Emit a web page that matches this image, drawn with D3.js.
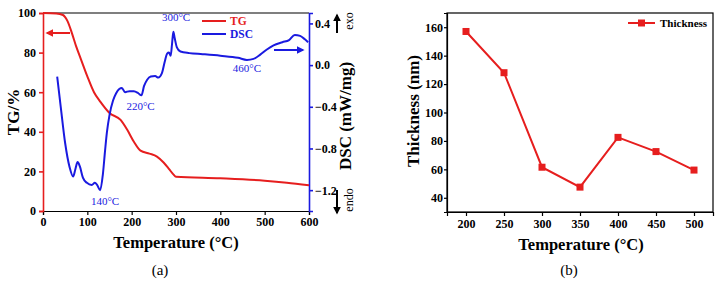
<!DOCTYPE html>
<html>
<head>
<meta charset="utf-8">
<script src="https://cdn.jsdelivr.net/npm/d3@7"></script>
<style>
  body { margin: 0; background: #fff; }
  text { font-family: "Liberation Serif", "Times New Roman", serif; }
</style>
</head>
<body>
<div id="chart"></div>
<script>
// TG curve (weight %) vs temperature
const tgTemp = [0, 30, 45, 55, 65, 75, 85, 100, 115, 130, 150, 175, 190, 205, 220, 240, 257, 272, 285, 294, 300, 400, 500, 550, 600];
const tgVal = [100, 99.8, 99, 96, 90, 83, 77, 68, 60, 55, 49.5, 46, 41, 35, 30.5, 29, 27.5, 24.5, 21, 18.5, 17.3, 16.5, 15.3, 14.3, 13];

// DSC curve (mW/mg) vs temperature
const dscTemp = [32, 40, 50, 60, 68, 73, 78, 83, 90, 99, 110, 117, 122, 129, 135, 140, 144, 150, 158, 165, 172, 178, 185, 195, 205, 215, 222, 228, 235, 243, 253, 260, 268, 275, 280, 284, 288, 291, 294, 297, 302, 310, 330, 360, 400, 440, 460, 475, 490, 505, 520, 540, 555, 568, 580, 590, 598];
const dscVal = [-0.11, -0.4, -0.75, -0.98, -1.07, -1.0, -0.93, -0.97, -1.08, -1.13, -1.15, -1.13, -1.15, -1.2, -1.05, -0.82, -0.65, -0.48, -0.34, -0.27, -0.23, -0.22, -0.26, -0.25, -0.25, -0.27, -0.29, -0.2, -0.14, -0.11, -0.105, -0.12, -0.08, 0.04, 0.11, 0.12, 0.09, 0.2, 0.32, 0.26, 0.17, 0.13, 0.115, 0.105, 0.09, 0.07, 0.05, 0.06, 0.1, 0.15, 0.19, 0.22, 0.24, 0.29, 0.28, 0.25, 0.22];

const peakLabels = [
  { t: 300, v: 0.46, text: '300°C' },
  { t: 220, v: -0.39, text: '220°C' },
  { t: 140, v: -1.31, text: '140°C' },
  { t: 460, v: -0.03, text: '460°C' }
];

// Thickness panel
const thickTemp = [200, 250, 300, 350, 400, 450, 500];
const thickVal = [157, 128, 61.5, 47.5, 82.5, 72.5, 59.5];

const tgTicks = [0, 20, 40, 60, 80, 100];
const tempTicksA = [0, 100, 200, 300, 400, 500, 600];
const dscTicks = [-1.2, -0.8, -0.4, 0.0, 0.4];
const thickTicks = [40, 60, 80, 100, 120, 140, 160];
const tempTicksB = [200, 250, 300, 350, 400, 450, 500];

const red = '#e61e1e';
const blue = '#1a1ae0';

const svg = d3.select('#chart')
  .append('svg')
  .attr('width', 720)
  .attr('height', 282);

const tickFont = (sel) => sel.selectAll('text')
  .style('font-family', '"Liberation Serif", serif')
  .style('font-weight', 'bold')
  .style('font-size', '12px')
  .attr('fill', '#000');

// ---------- panel (a) ----------
const xA = d3.scaleLinear().domain([0, 600]).range([43, 309]);
const yTG = d3.scaleLinear().domain([0, 100]).range([211, 13]);
const yDSC = d3.scaleLinear().domain([-1.4, 0.5]).range([211, 13]);

// frame top
svg.append('line')
  .attr('x1', 43).attr('x2', 309).attr('y1', 13).attr('y2', 13)
  .attr('stroke', '#000').attr('stroke-width', 1.2);

// bottom axis
const gxA = svg.append('g').attr('transform', 'translate(0,211)');
gxA.call(d3.axisBottom(xA).tickValues(d3.range(0, 601, 50)).tickSize(3).tickFormat(''));
gxA.call(d3.axisBottom(xA).tickValues(tempTicksA).tickSize(4).tickPadding(2).tickFormat(d3.format('d')));
gxA.selectAll('path,line').attr('stroke', '#000').attr('stroke-width', 1.2);
tickFont(gxA);

// left TG axis (red)
const gyA = svg.append('g').attr('transform', 'translate(43,0)');
gyA.call(d3.axisLeft(yTG).tickValues(d3.range(0, 101, 10)).tickSize(3).tickFormat(''));
gyA.call(d3.axisLeft(yTG).tickValues(tgTicks).tickSize(4).tickPadding(3).tickFormat(d3.format('d')));
gyA.selectAll('path,line').attr('stroke', red).attr('stroke-width', 1.6);
tickFont(gyA);

// right DSC axis (blue)
const gyR = svg.append('g').attr('transform', 'translate(309,0)');
gyR.call(d3.axisRight(yDSC).tickValues(d3.range(-1.4, 0.51, 0.2)).tickSize(3).tickFormat(''));
gyR.call(d3.axisRight(yDSC).tickValues(dscTicks).tickSize(4).tickPadding(2).tickFormat(d3.format('.1f')));
gyR.selectAll('path,line').attr('stroke', blue).attr('stroke-width', 1.6);
tickFont(gyR);

// curves
const tgLine = d3.line()
  .x((d, i) => xA(tgTemp[i]))
  .y((d) => yTG(d))
  .curve(d3.curveMonotoneX);
svg.append('path')
  .attr('d', tgLine(tgVal))
  .attr('fill', 'none').attr('stroke', red).attr('stroke-width', 2);

const dscLine = d3.line()
  .x((d, i) => xA(dscTemp[i]))
  .y((d) => yDSC(d))
  .curve(d3.curveMonotoneX);
svg.append('path')
  .attr('d', dscLine(dscVal))
  .attr('fill', 'none').attr('stroke', blue).attr('stroke-width', 2);

// peak annotations
svg.selectAll('.peak')
  .data(peakLabels)
  .enter()
  .append('text')
  .attr('x', (d) => xA(d.t))
  .attr('y', (d) => yDSC(d.v))
  .attr('text-anchor', 'middle')
  .attr('dy', '0.35em')
  .attr('fill', blue)
  .style('font-size', '11px')
  .text((d) => d.text);

// legend
const legA = [
  { name: 'TG', color: red, y: 21 },
  { name: 'DSC', color: blue, y: 34 }
];
legA.forEach((d) => {
  svg.append('line')
    .attr('x1', 202).attr('x2', 226).attr('y1', d.y).attr('y2', d.y)
    .attr('stroke', d.color).attr('stroke-width', 2);
  svg.append('text')
    .attr('x', 230).attr('y', d.y).attr('dy', '0.35em')
    .attr('fill', d.color)
    .style('font-weight', 'bold').style('font-size', '11.5px')
    .text(d.name);
});

// arrows
const defs = svg.append('defs');
[['arRed', red], ['arBlue', blue], ['arBlack', '#000']].forEach(([id, c]) => {
  defs.append('marker')
    .attr('id', id)
    .attr('viewBox', '0 0 10 10')
    .attr('refX', 8).attr('refY', 5)
    .attr('markerWidth', 4).attr('markerHeight', 4)
    .attr('orient', 'auto')
    .append('path')
    .attr('d', 'M0,0 L10,5 L0,10 z')
    .attr('fill', c);
});
svg.append('line')
  .attr('x1', 70).attr('x2', 47).attr('y1', 33).attr('y2', 33)
  .attr('stroke', red).attr('stroke-width', 2)
  .attr('marker-end', 'url(#arRed)');
svg.append('line')
  .attr('x1', 274).attr('x2', 303).attr('y1', 50).attr('y2', 50)
  .attr('stroke', blue).attr('stroke-width', 2)
  .attr('marker-end', 'url(#arBlue)');
svg.append('line')
  .attr('x1', 337).attr('x2', 337).attr('y1', 33).attr('y2', 15)
  .attr('stroke', '#000').attr('stroke-width', 2)
  .attr('marker-end', 'url(#arBlack)');
svg.append('line')
  .attr('x1', 337).attr('x2', 337).attr('y1', 190).attr('y2', 213)
  .attr('stroke', '#000').attr('stroke-width', 2)
  .attr('marker-end', 'url(#arBlack)');

svg.append('text')
  .attr('transform', 'translate(349,21) rotate(-90)')
  .attr('text-anchor', 'middle').attr('dy', '0.35em')
  .style('font-size', '12px')
  .text('exo');
svg.append('text')
  .attr('transform', 'translate(349,200) rotate(-90)')
  .attr('text-anchor', 'middle').attr('dy', '0.35em')
  .style('font-size', '12px')
  .text('endo');

// axis titles (a)
svg.append('text')
  .attr('transform', 'translate(13,112) rotate(-90)')
  .attr('text-anchor', 'middle').attr('dy', '0.35em')
  .style('font-weight', 'bold').style('font-size', '17px')
  .text('TG/%');
svg.append('text')
  .attr('transform', 'translate(345,116) rotate(-90)')
  .attr('text-anchor', 'middle').attr('dy', '0.35em')
  .style('font-weight', 'bold').style('font-size', '17px')
  .text('DSC (mW/mg)');
svg.append('text')
  .attr('x', 176).attr('y', 242).attr('dy', '0.35em')
  .attr('text-anchor', 'middle')
  .style('font-weight', 'bold').style('font-size', '16.5px')
  .text('Temperature (°C)');
svg.append('text')
  .attr('x', 160).attr('y', 270).attr('dy', '0.35em')
  .attr('text-anchor', 'middle')
  .style('font-size', '15px')
  .text('(a)');

// ---------- panel (b) ----------
const xB = d3.scaleLinear().domain([175, 525]).range([447, 713]);
const yB = d3.scaleLinear().domain([30, 170]).range([212, 13]);

svg.append('rect')
  .attr('x', 447).attr('y', 13).attr('width', 266).attr('height', 199)
  .attr('fill', 'none').attr('stroke', '#000').attr('stroke-width', 1.2);

const gxB = svg.append('g').attr('transform', 'translate(0,212)');
gxB.call(d3.axisBottom(xB).tickValues(d3.range(175, 526, 25)).tickSize(3).tickFormat(''));
gxB.call(d3.axisBottom(xB).tickValues(tempTicksB).tickSize(4).tickPadding(3).tickFormat(d3.format('d')));
gxB.selectAll('path,line').attr('stroke', '#000').attr('stroke-width', 1.2);
tickFont(gxB);

const gyB = svg.append('g').attr('transform', 'translate(447,0)');
gyB.call(d3.axisLeft(yB).tickValues(d3.range(30, 171, 10)).tickSize(3).tickFormat(''));
gyB.call(d3.axisLeft(yB).tickValues(thickTicks).tickSize(3).tickPadding(1).tickFormat(d3.format('d')));
gyB.selectAll('path,line').attr('stroke', '#000').attr('stroke-width', 1.2);
tickFont(gyB);

const thickLine = d3.line()
  .x((d, i) => xB(thickTemp[i]))
  .y((d) => yB(d));
svg.append('path')
  .attr('d', thickLine(thickVal))
  .attr('fill', 'none').attr('stroke', red).attr('stroke-width', 2);
svg.selectAll('.sq')
  .data(thickVal)
  .enter()
  .append('rect')
  .attr('x', (d, i) => xB(thickTemp[i]) - 3.5)
  .attr('y', (d) => yB(d) - 3.5)
  .attr('width', 7).attr('height', 7)
  .attr('fill', red);

// legend (b)
svg.append('line')
  .attr('x1', 628).attr('x2', 655).attr('y1', 23).attr('y2', 23)
  .attr('stroke', red).attr('stroke-width', 2);
svg.append('rect')
  .attr('x', 638).attr('y', 19.5).attr('width', 7).attr('height', 7)
  .attr('fill', red);
svg.append('text')
  .attr('x', 660).attr('y', 23).attr('dy', '0.35em')
  .style('font-weight', 'bold').style('font-size', '11px')
  .text('Thickness');

svg.append('text')
  .attr('transform', 'translate(413,111) rotate(-90)')
  .attr('text-anchor', 'middle').attr('dy', '0.35em')
  .style('font-weight', 'bold').style('font-size', '17px')
  .text('Thickness (nm)');
svg.append('text')
  .attr('x', 581).attr('y', 244).attr('dy', '0.35em')
  .attr('text-anchor', 'middle')
  .style('font-weight', 'bold').style('font-size', '16.5px')
  .text('Temperature (°C)');
svg.append('text')
  .attr('x', 569).attr('y', 270).attr('dy', '0.35em')
  .attr('text-anchor', 'middle')
  .style('font-size', '15px')
  .text('(b)');
</script>
</body>
</html>
